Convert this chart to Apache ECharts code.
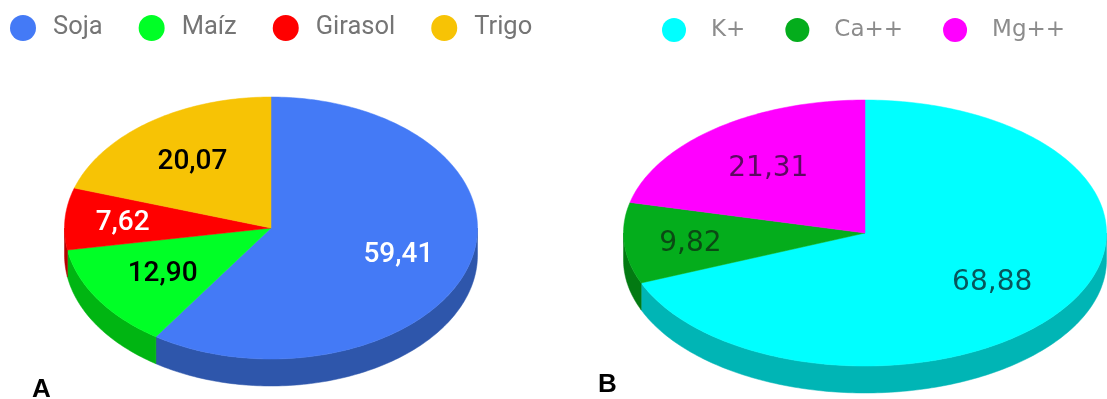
<!DOCTYPE html>
<html>
<head>
<meta charset="utf-8">
<style>html,body{margin:0;padding:0;background:#fff}#chart{width:1107px;height:399px}</style>
<script src="https://cdn.jsdelivr.net/npm/echarts@6/dist/echarts.min.js"></script>
</head>
<body>
<div id="chart"></div>
<script>
// Crop shares (panel A)
const cropNames = ['Soja', 'Maíz', 'Girasol', 'Trigo'];
const cropValues = [59.41, 12.90, 7.62, 20.07];
const cropColors = ['#447af6', '#00ff26', '#ff0000', '#f7c305'];
const cropWalls = ['#2e56ab', '#00b512', '#b50000', '#b08a00'];
const cropLabelColors = ['#ffffff', '#000000', '#ffffff', '#000000'];
const cropLabelRadii = [0.645, 0.625, 0.72, 0.645];

// Cation shares (panel B)
const cationNames = ['K+', 'Ca++', 'Mg++'];
const cationValues = [68.88, 9.82, 21.31];
const cationColors = ['#00ffff', '#04ad1c', '#ff00ff'];
const cationWalls = ['#00b5b5', '#037a12', '#b500b5'];
const cationLabelColors = ['#07565c', '#0b4a14', '#5c0a60'];
const cationLabelRadii = [0.635, 0.725, 0.645];

const decimalComma = v => v.toFixed(2).replace('.', ',');

// Point on a tilted disc; angle runs clockwise from 12 o'clock
function rimPoint(disc, angle, drop, fraction) {
  const f = fraction === undefined ? 1 : fraction;
  return [
    disc.cx + disc.rx * f * Math.sin(angle),
    disc.cy - disc.ry * f * Math.cos(angle) + drop
  ];
}

function arcPoints(disc, from, to, drop) {
  const steps = Math.max(2, Math.ceil(Math.abs(to - from) / (Math.PI / 180)));
  const pts = [];
  for (let i = 0; i <= steps; i++) {
    pts.push(rimPoint(disc, from + (to - from) * i / steps, drop));
  }
  return pts;
}

// One slice as its own series, so the legend picks up each name and colour
function sliceSeries(disc, names, values, colors, walls, labelColors, radii, index) {
  const total = values.reduce((a, b) => a + b, 0);
  const before = values.slice(0, index).reduce((a, b) => a + b, 0);
  return {
    type: 'custom',
    name: names[index],
    coordinateSystem: 'none',
    silent: true,
    itemStyle: { color: colors[index] },
    data: [[values[index]]],
    renderItem: function (params, api) {
      const value = api.value(0);
      const start = before / total * 2 * Math.PI;
      const end = (before + value) / total * 2 * Math.PI;
      const children = [];

      // The rim is visible only on the lower half of the disc
      const wallFrom = Math.max(start, Math.PI / 2);
      const wallTo = Math.min(end, 3 * Math.PI / 2);
      if (wallTo > wallFrom) {
        children.push({
          type: 'polygon',
          shape: {
            points: arcPoints(disc, wallFrom, wallTo, 0)
              .concat(arcPoints(disc, wallTo, wallFrom, disc.depth))
          },
          style: { fill: walls[index], stroke: walls[index], lineWidth: 0.5 }
        });
      }

      children.push({
        type: 'polygon',
        shape: { points: [[disc.cx, disc.cy]].concat(arcPoints(disc, start, end, 0)) },
        style: { fill: colors[index], stroke: colors[index], lineWidth: 0.5 }
      });

      const mid = (start + end) / 2;
      const at = rimPoint(disc, mid, disc.labelDrop, radii[index]);
      children.push({
        type: 'text',
        z2: 10,
        style: {
          x: at[0],
          y: at[1],
          text: decimalComma(value),
          fill: labelColors[index],
          font: disc.labelFont,
          align: 'center',
          verticalAlign: 'middle'
        }
      });
      return { type: 'group', children: children };
    }
  };
}

const discA = { cx: 271, cy: 228, rx: 206.5, ry: 131, depth: 27, labelDrop: 2, labelFont: '500 28px Roboto, sans-serif' };
const discB = { cx: 865, cy: 233, rx: 241.5, ry: 133, depth: 27, labelDrop: 3, labelFont: '28px "DejaVu Sans", sans-serif' };

const series = [];
cropNames.forEach((_, i) => series.push(sliceSeries(discA, cropNames, cropValues, cropColors, cropWalls, cropLabelColors, cropLabelRadii, i)));
cationNames.forEach((_, i) => series.push(sliceSeries(discB, cationNames, cationValues, cationColors, cationWalls, cationLabelColors, cationLabelRadii, i)));

const chart = echarts.init(document.getElementById('chart'), null, { renderer: 'canvas' });
chart.setOption({
  animation: false,
  backgroundColor: '#ffffff',
  legend: [
    {
      data: cropNames,
      left: 5,
      top: 10,
      icon: 'circle',
      itemWidth: 26,
      itemHeight: 26,
      itemGap: 36,
      selectedMode: false,
      textStyle: { color: '#757575', fontSize: 25.5, fontFamily: 'Roboto, sans-serif', padding: [0, 0, 0, 12] }
    },
    {
      data: cationNames,
      left: 657,
      top: 13,
      icon: 'circle',
      itemWidth: 30,
      itemHeight: 24,
      itemGap: 40,
      symbolKeepAspect: false,
      selectedMode: false,
      textStyle: { color: '#8c8c8c', fontSize: 23, fontFamily: '"DejaVu Sans", sans-serif', padding: [0, 0, 0, 17] }
    }
  ],
  tooltip: { show: false },
  graphic: [
    { type: 'text', left: 32, top: 377, style: { text: 'A', fill: '#000', font: 'bold 26px "Liberation Sans", sans-serif' } },
    { type: 'text', left: 598, top: 372, style: { text: 'B', fill: '#000', font: 'bold 26px "Liberation Sans", sans-serif' } }
  ],
  series: series
});
</script>
</body>
</html>
